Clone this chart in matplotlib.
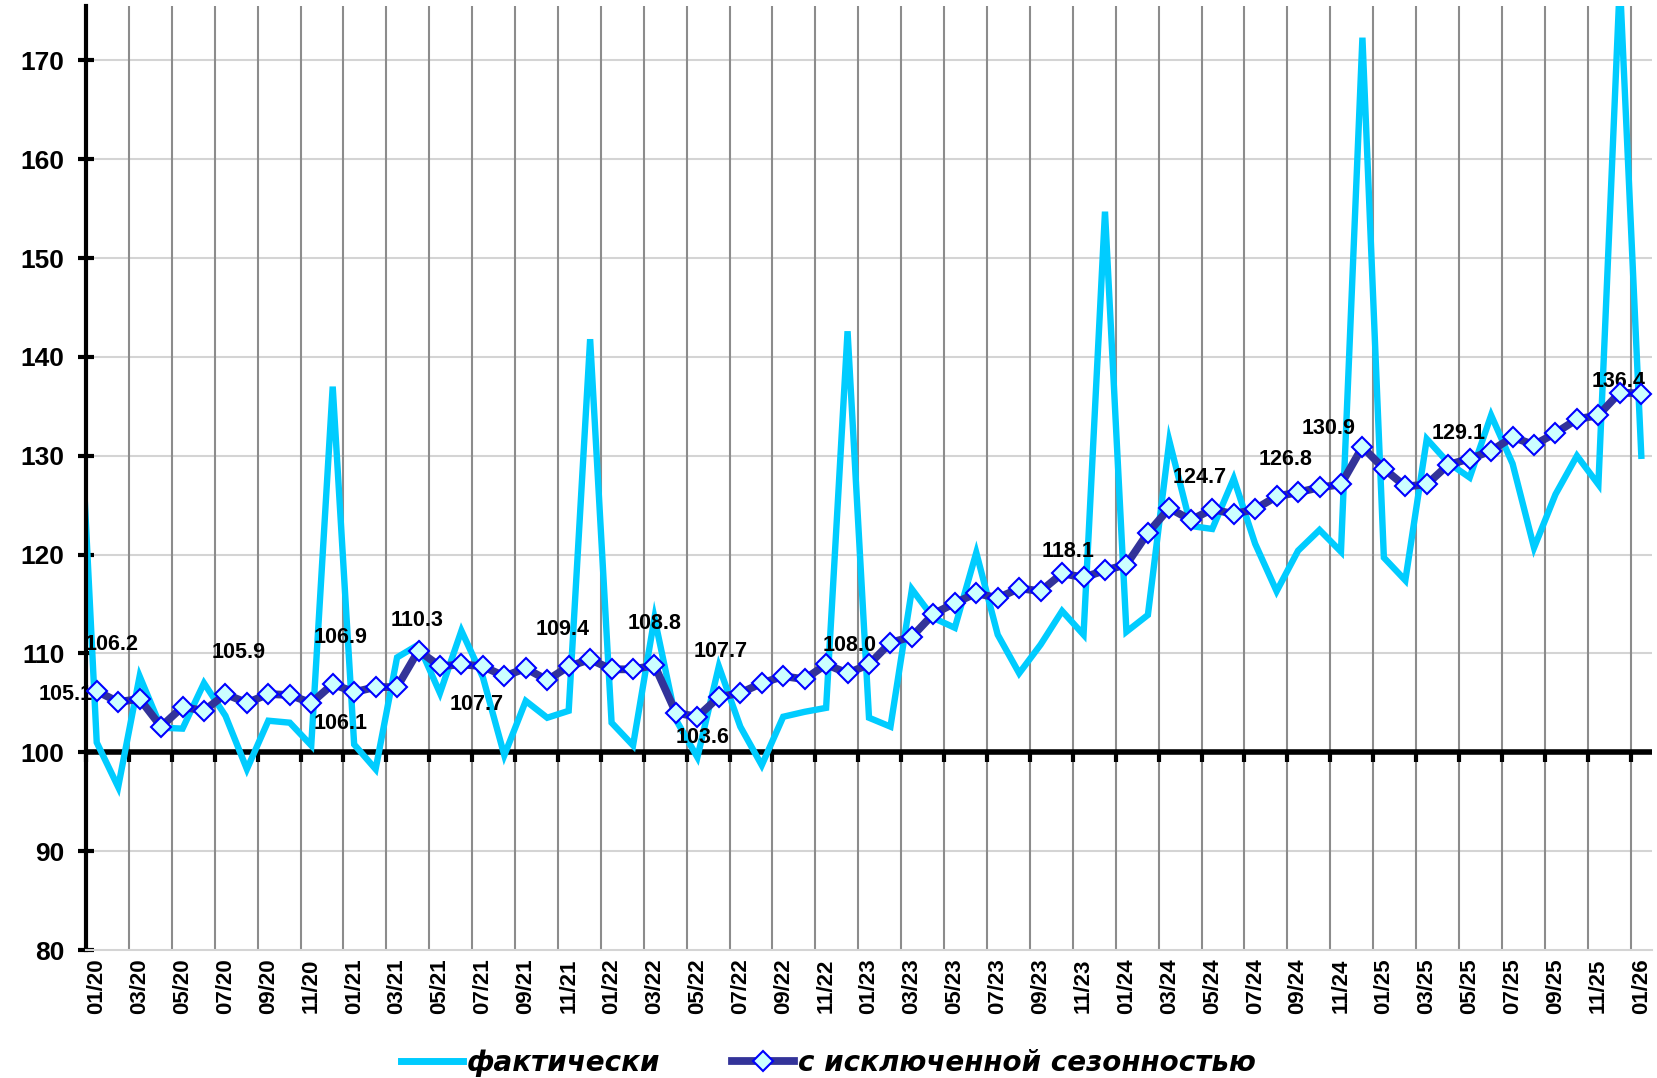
import numpy as np
import matplotlib
matplotlib.use("Agg")
import matplotlib.pyplot as plt
from matplotlib.lines import Line2D

plt.rcParams['font.family'] = ['Liberation Sans', 'DejaVu Sans']

# ---- data ----
# месяцы 01/20 .. 01/26
months = [f"{m:02d}/{y:02d}" for y in range(20, 27) for m in range(1, 13)][:73]

# фактически (первое значение - 12/19, уходит за левый край)
fact = [145.0,
        101.0, 96.5, 107.7, 102.5, 102.4, 107.0, 103.7, 98.3, 103.2, 103.0, 100.7, 137.0,
        100.8, 98.3, 109.6, 110.9, 106.0, 112.3, 107.6, 99.7, 105.2, 103.5, 104.2, 141.8,
        103.0, 100.7, 113.6, 103.3, 99.5, 108.7, 102.6, 98.7, 103.6, 104.1, 104.5, 142.6,
        103.5, 102.6, 116.5, 113.6, 112.6, 120.2, 111.9, 108.0, 110.9, 114.3, 111.9, 154.7,
        112.2, 113.9, 131.5, 122.9, 122.6, 127.7, 121.1, 116.3, 120.4, 122.5, 120.3, 172.3,
        119.7, 117.4, 131.7, 129.3, 127.8, 134.1, 129.2, 120.7, 126.1, 130.0, 127.1, 178.0,
        130.0]

# с исключенной сезонностью
sa = [106.2, 105.1, 105.4, 102.6, 104.6, 104.2, 105.9, 105.0, 105.9, 105.8, 105.0, 106.9,
      106.1, 106.6, 106.6, 110.3, 108.7, 108.9, 108.7, 107.7, 108.5, 107.3, 108.7, 109.4,
      108.4, 108.4, 108.8, 104.0, 103.6, 105.6, 106.0, 107.0, 107.7, 107.4, 108.9, 108.0,
      108.9, 111.1, 111.7, 114.0, 115.1, 116.1, 115.6, 116.6, 116.3, 118.1, 117.7, 118.4,
      119.0, 122.2, 124.7, 123.5, 124.6, 124.1, 124.6, 125.9, 126.3, 126.8, 127.1, 130.9,
      128.7, 126.9, 127.1, 129.1, 129.7, 130.5, 131.9, 131.1, 132.3, 133.7, 134.1, 136.4,
      136.3]

# подписи: индекс точки
label_idx = [1, 0, 6, 11, 12, 15, 19, 23, 26, 28, 32, 35, 45, 50, 57, 59, 63, 71]
# положение подписей (x в месяцах, y в значениях оси)
label_pos = [(-0.95, 105.9), (1.2, 110.9), (7.1, 110.15), (11.85, 111.65), (11.85, 102.9),
             (15.45, 113.35), (18.2, 104.8), (22.2, 112.4), (26.5, 113.0), (28.75, 101.5),
             (29.6, 110.25), (35.6, 110.8), (45.8, 120.3), (51.9, 127.8), (55.9, 129.6),
             (57.9, 132.8), (63.97, 132.3), (71.46, 137.5)]

LIGHT = '#00CCFF'
DARK = '#333399'

fig = plt.figure(figsize=(16.57, 10.78), dpi=100)
ax = fig.add_axes([0.0519, 0.1187, 0.9451, 0.8757])

n = len(sa)
x_sa = np.arange(n) + 0.5
x_fact = np.arange(-1, n) + 0.5

ax.set_xlim(0, n)
ax.set_ylim(80, 175.5)

# сетка
for yv in range(90, 180, 10):
    ax.axhline(yv, color='#d4d4d4', lw=1.5, zorder=0)
ax.vlines(np.arange(2, n + 1, 2), 80, 175.5, color='#8c8c8c', lw=1.5, zorder=0)

# ось на 100
ax.axhline(100, color='black', lw=4, zorder=1)
ticks_x = np.arange(0, n + 1, 2)
ax.plot(ticks_x, [100] * len(ticks_x), ls='none',
        marker=3, markersize=7, markeredgewidth=3, color='black', zorder=1, clip_on=False)

ax.plot(x_fact, fact, color=LIGHT, lw=4.6, zorder=2, solid_joinstyle='miter')
ax.plot(x_sa, sa, color=DARK, lw=5.6, zorder=3, marker='D', markersize=10,
        markerfacecolor='#CCFFFF', markeredgecolor='#0000FF', markeredgewidth=1.5)

for idx, (tx, ty) in zip(label_idx, label_pos):
    ax.text(tx, ty, f"{sa[idx]:.1f}", ha='center', va='center', fontsize=15.5,
            fontweight='bold', zorder=2.5, clip_on=False)

# оси
for s in ['top', 'right']:
    ax.spines[s].set_visible(False)
ax.spines['left'].set_linewidth(3)
ax.spines['bottom'].set_color('#d4d4d4')
ax.spines['bottom'].set_linewidth(1.5)

ax.set_yticks(range(80, 171, 10))
ax.tick_params(axis='y', direction='inout', length=11, width=3, pad=10, labelsize=19)
for lbl in ax.get_yticklabels():
    lbl.set_fontweight('bold')

ax.set_xticks(np.arange(0, n, 2) + 0.5)
ax.set_xticklabels(months[::2], rotation=90, fontsize=16, fontweight='bold')
ax.tick_params(axis='x', length=0, pad=6)

handles = [Line2D([], [], color=LIGHT, lw=5),
           Line2D([], [], color=DARK, lw=5.6, marker='D', markersize=10,
                  markerfacecolor='#CCFFFF', markeredgecolor='#0000FF', markeredgewidth=1.5)]
fig.legend(handles, ['фактически', 'с исключенной сезонностью'], loc='lower center',
           bbox_to_anchor=(0.5, -0.022), ncol=2, frameon=False, handlelength=2.2,
           handletextpad=0.15, columnspacing=2.6,
           prop={'family': ['Liberation Sans Narrow', 'DejaVu Sans Condensed', 'DejaVu Sans'],
                 'style': 'italic', 'weight': 'bold', 'size': 20})

fig.savefig('out.png', dpi=100)
